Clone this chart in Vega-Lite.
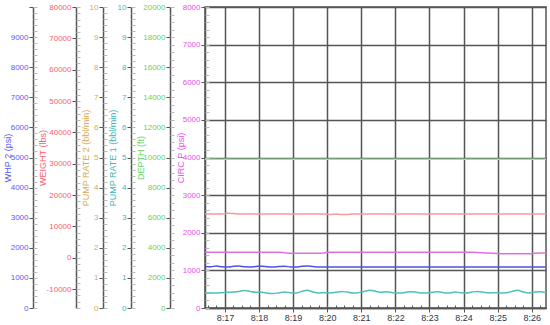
{
  "$schema": "https://vega.github.io/schema/vega-lite/v6.json",
  "width": 341,
  "height": 301,
  "autosize": {"type": "none"},
  "padding": {"left": 205, "top": 7, "right": 4, "bottom": 17},
  "background": "white",
  "config": {
    "view": {"stroke": "#555555", "strokeWidth": 1.5},
    "axis": {
      "labelFont": "Liberation Sans",
      "titleFont": "Liberation Sans",
      "labelFontSize": 8,
      "titleFontSize": 9,
      "titleFontWeight": "normal",
      "domainColor": "#555555",
      "domainWidth": 1.5,
      "tickColor": "#555555",
      "tickSize": 4,
      "labelPadding": 1,
      "labelOverlap": false,
      "labelFlush": false,
      "labelBound": false,
      "grid": false
    }
  },
  "data": {
    "values": [
      {"t": "2024-01-01T08:16:25", "whp2": 1380, "weight": 14000, "rate1": 0.50, "rate2": 0, "depth": 9880, "circp": 1480},
      {"t": "2024-01-01T08:16:35", "whp2": 1370, "weight": 14000, "rate1": 0.50, "rate2": 0, "depth": 9880, "circp": 1480},
      {"t": "2024-01-01T08:16:45", "whp2": 1395, "weight": 14000, "rate1": 0.50, "rate2": 0, "depth": 9880, "circp": 1480},
      {"t": "2024-01-01T08:16:55", "whp2": 1370, "weight": 14000, "rate1": 0.51, "rate2": 0, "depth": 9880, "circp": 1480},
      {"t": "2024-01-01T08:17:05", "whp2": 1360, "weight": 14200, "rate1": 0.52, "rate2": 0, "depth": 9880, "circp": 1480},
      {"t": "2024-01-01T08:17:15", "whp2": 1385, "weight": 14150, "rate1": 0.53, "rate2": 0, "depth": 9880, "circp": 1480},
      {"t": "2024-01-01T08:17:25", "whp2": 1395, "weight": 14000, "rate1": 0.55, "rate2": 0, "depth": 9880, "circp": 1480},
      {"t": "2024-01-01T08:17:35", "whp2": 1370, "weight": 14000, "rate1": 0.58, "rate2": 0, "depth": 9880, "circp": 1480},
      {"t": "2024-01-01T08:17:45", "whp2": 1365, "weight": 14000, "rate1": 0.55, "rate2": 0, "depth": 9880, "circp": 1480},
      {"t": "2024-01-01T08:17:55", "whp2": 1380, "weight": 14000, "rate1": 0.52, "rate2": 0, "depth": 9880, "circp": 1480},
      {"t": "2024-01-01T08:18:05", "whp2": 1390, "weight": 14000, "rate1": 0.52, "rate2": 0, "depth": 9880, "circp": 1480},
      {"t": "2024-01-01T08:18:15", "whp2": 1370, "weight": 14000, "rate1": 0.49, "rate2": 0, "depth": 9880, "circp": 1480},
      {"t": "2024-01-01T08:18:25", "whp2": 1360, "weight": 14000, "rate1": 0.48, "rate2": 0, "depth": 9880, "circp": 1480},
      {"t": "2024-01-01T08:18:35", "whp2": 1375, "weight": 14000, "rate1": 0.50, "rate2": 0, "depth": 9880, "circp": 1480},
      {"t": "2024-01-01T08:18:45", "whp2": 1385, "weight": 14000, "rate1": 0.53, "rate2": 0, "depth": 9880, "circp": 1470},
      {"t": "2024-01-01T08:18:55", "whp2": 1365, "weight": 14000, "rate1": 0.51, "rate2": 0, "depth": 9880, "circp": 1458},
      {"t": "2024-01-01T08:19:05", "whp2": 1360, "weight": 14000, "rate1": 0.50, "rate2": 0, "depth": 9880, "circp": 1458},
      {"t": "2024-01-01T08:19:15", "whp2": 1385, "weight": 14000, "rate1": 0.55, "rate2": 0, "depth": 9880, "circp": 1458},
      {"t": "2024-01-01T08:19:25", "whp2": 1395, "weight": 14000, "rate1": 0.59, "rate2": 0, "depth": 9880, "circp": 1458},
      {"t": "2024-01-01T08:19:35", "whp2": 1375, "weight": 14000, "rate1": 0.53, "rate2": 0, "depth": 9880, "circp": 1458},
      {"t": "2024-01-01T08:19:45", "whp2": 1360, "weight": 14000, "rate1": 0.50, "rate2": 0, "depth": 9880, "circp": 1458},
      {"t": "2024-01-01T08:19:55", "whp2": 1360, "weight": 14000, "rate1": 0.51, "rate2": 0, "depth": 9880, "circp": 1465},
      {"t": "2024-01-01T08:20:05", "whp2": 1360, "weight": 13800, "rate1": 0.50, "rate2": 0, "depth": 9880, "circp": 1480},
      {"t": "2024-01-01T08:20:15", "whp2": 1360, "weight": 13950, "rate1": 0.52, "rate2": 0, "depth": 9880, "circp": 1480},
      {"t": "2024-01-01T08:20:25", "whp2": 1360, "weight": 13800, "rate1": 0.55, "rate2": 0, "depth": 9880, "circp": 1480},
      {"t": "2024-01-01T08:20:35", "whp2": 1360, "weight": 13850, "rate1": 0.53, "rate2": 0, "depth": 9880, "circp": 1480},
      {"t": "2024-01-01T08:20:45", "whp2": 1360, "weight": 14000, "rate1": 0.50, "rate2": 0, "depth": 9880, "circp": 1480},
      {"t": "2024-01-01T08:20:55", "whp2": 1360, "weight": 14000, "rate1": 0.51, "rate2": 0, "depth": 9880, "circp": 1480},
      {"t": "2024-01-01T08:21:05", "whp2": 1360, "weight": 14000, "rate1": 0.55, "rate2": 0, "depth": 9880, "circp": 1480},
      {"t": "2024-01-01T08:21:15", "whp2": 1360, "weight": 14000, "rate1": 0.59, "rate2": 0, "depth": 9880, "circp": 1480},
      {"t": "2024-01-01T08:21:25", "whp2": 1360, "weight": 14000, "rate1": 0.56, "rate2": 0, "depth": 9880, "circp": 1480},
      {"t": "2024-01-01T08:21:35", "whp2": 1360, "weight": 14000, "rate1": 0.52, "rate2": 0, "depth": 9880, "circp": 1480},
      {"t": "2024-01-01T08:21:45", "whp2": 1360, "weight": 14000, "rate1": 0.54, "rate2": 0, "depth": 9880, "circp": 1480},
      {"t": "2024-01-01T08:21:55", "whp2": 1360, "weight": 14000, "rate1": 0.51, "rate2": 0, "depth": 9880, "circp": 1480},
      {"t": "2024-01-01T08:22:05", "whp2": 1360, "weight": 14000, "rate1": 0.50, "rate2": 0, "depth": 9880, "circp": 1480},
      {"t": "2024-01-01T08:22:15", "whp2": 1360, "weight": 14000, "rate1": 0.51, "rate2": 0, "depth": 9880, "circp": 1480},
      {"t": "2024-01-01T08:22:25", "whp2": 1360, "weight": 14000, "rate1": 0.54, "rate2": 0, "depth": 9880, "circp": 1480},
      {"t": "2024-01-01T08:22:35", "whp2": 1360, "weight": 14000, "rate1": 0.53, "rate2": 0, "depth": 9880, "circp": 1480},
      {"t": "2024-01-01T08:22:45", "whp2": 1360, "weight": 14000, "rate1": 0.50, "rate2": 0, "depth": 9880, "circp": 1480},
      {"t": "2024-01-01T08:22:55", "whp2": 1360, "weight": 14000, "rate1": 0.50, "rate2": 0, "depth": 9880, "circp": 1480},
      {"t": "2024-01-01T08:23:05", "whp2": 1360, "weight": 14000, "rate1": 0.52, "rate2": 0, "depth": 9880, "circp": 1480},
      {"t": "2024-01-01T08:23:15", "whp2": 1360, "weight": 14000, "rate1": 0.54, "rate2": 0, "depth": 9880, "circp": 1480},
      {"t": "2024-01-01T08:23:25", "whp2": 1360, "weight": 14000, "rate1": 0.51, "rate2": 0, "depth": 9880, "circp": 1480},
      {"t": "2024-01-01T08:23:35", "whp2": 1360, "weight": 14000, "rate1": 0.50, "rate2": 0, "depth": 9880, "circp": 1480},
      {"t": "2024-01-01T08:23:45", "whp2": 1360, "weight": 14000, "rate1": 0.53, "rate2": 0, "depth": 9880, "circp": 1480},
      {"t": "2024-01-01T08:23:55", "whp2": 1360, "weight": 14000, "rate1": 0.51, "rate2": 0, "depth": 9880, "circp": 1480},
      {"t": "2024-01-01T08:24:05", "whp2": 1360, "weight": 14000, "rate1": 0.50, "rate2": 0, "depth": 9880, "circp": 1480},
      {"t": "2024-01-01T08:24:15", "whp2": 1360, "weight": 14000, "rate1": 0.53, "rate2": 0, "depth": 9880, "circp": 1480},
      {"t": "2024-01-01T08:24:25", "whp2": 1360, "weight": 14000, "rate1": 0.55, "rate2": 0, "depth": 9880, "circp": 1475},
      {"t": "2024-01-01T08:24:35", "whp2": 1360, "weight": 14000, "rate1": 0.52, "rate2": 0, "depth": 9880, "circp": 1468},
      {"t": "2024-01-01T08:24:45", "whp2": 1360, "weight": 14000, "rate1": 0.50, "rate2": 0, "depth": 9880, "circp": 1460},
      {"t": "2024-01-01T08:24:55", "whp2": 1360, "weight": 14000, "rate1": 0.51, "rate2": 0, "depth": 9880, "circp": 1455},
      {"t": "2024-01-01T08:25:05", "whp2": 1360, "weight": 14000, "rate1": 0.50, "rate2": 0, "depth": 9880, "circp": 1445},
      {"t": "2024-01-01T08:25:15", "whp2": 1360, "weight": 14000, "rate1": 0.51, "rate2": 0, "depth": 9880, "circp": 1445},
      {"t": "2024-01-01T08:25:25", "whp2": 1360, "weight": 14000, "rate1": 0.55, "rate2": 0, "depth": 9880, "circp": 1445},
      {"t": "2024-01-01T08:25:35", "whp2": 1360, "weight": 14000, "rate1": 0.59, "rate2": 0, "depth": 9880, "circp": 1445},
      {"t": "2024-01-01T08:25:45", "whp2": 1360, "weight": 14000, "rate1": 0.53, "rate2": 0, "depth": 9880, "circp": 1445},
      {"t": "2024-01-01T08:25:55", "whp2": 1360, "weight": 14000, "rate1": 0.50, "rate2": 0, "depth": 9880, "circp": 1445},
      {"t": "2024-01-01T08:26:05", "whp2": 1360, "weight": 14000, "rate1": 0.53, "rate2": 0, "depth": 9880, "circp": 1455},
      {"t": "2024-01-01T08:26:15", "whp2": 1360, "weight": 14000, "rate1": 0.54, "rate2": 0, "depth": 9880, "circp": 1462},
      {"t": "2024-01-01T08:26:25", "whp2": 1360, "weight": 14000, "rate1": 0.51, "rate2": 0, "depth": 9880, "circp": 1462}
    ]
  },
  "encoding": {
    "x": {
      "field": "t",
      "type": "temporal",
      "scale": {
        "domain": [
          {"year": 2024, "month": 1, "date": 1, "hours": 8, "minutes": 16, "seconds": 25},
          {"year": 2024, "month": 1, "date": 1, "hours": 8, "minutes": 26, "seconds": 25}
        ],
        "nice": false
      },
      "axis": null
    }
  },
  "layer": [
    {
      "mark": {"type": "line", "color": "#9ae69a", "strokeWidth": 1.5},
      "encoding": {
        "y": {
          "field": "depth", "type": "quantitative",
          "scale": {"domain": [0, 20000], "nice": false, "zero": false},
          "axis": {
            "orient": "left", "offset": 35, "title": "DEPTH  (ft)", "titleX": -25,
            "titleColor": "#5fd35f", "labelColor": "#5fd35f", "tickCount": 10,
            "labelExpr": "'' + datum.value"
          }
        }
      }
    },
    {
      "mark": {"type": "line", "opacity": 0},
      "encoding": {
        "y": {
          "field": "depth", "type": "quantitative",
          "scale": {"domain": [0, 20000], "nice": false, "zero": false},
          "axis": {"orient": "left", "offset": 35, "title": null, "domain": false, "labels": false, "tickCount": 50, "tickSize": -4, "tickColor": "#bbbbbb"}
        }
      }
    },
    {
      "mark": {"type": "line", "color": "#f59a9a", "strokeWidth": 1.5, "interpolate": "monotone"},
      "encoding": {
        "y": {
          "field": "weight", "type": "quantitative",
          "scale": {"domain": [-16000, 80000], "nice": false, "zero": false},
          "axis": {
            "orient": "left", "offset": 129, "title": "WEIGHT  (lbs)", "titleX": -29,
            "titleColor": "#ff5a6e", "labelColor": "#ff5a6e", "tickCount": 10,
            "labelExpr": "'' + datum.value"
          }
        }
      }
    },
    {
      "mark": {"type": "line", "opacity": 0},
      "encoding": {
        "y": {
          "field": "weight", "type": "quantitative",
          "scale": {"domain": [-16000, 80000], "nice": false, "zero": false},
          "axis": {"orient": "left", "offset": 129, "title": null, "domain": false, "labels": false, "tickCount": 48, "tickSize": -4, "tickColor": "#bbbbbb"}
        }
      }
    },
    {
      "mark": {"type": "line", "color": "#e070e0", "strokeWidth": 1.5, "interpolate": "monotone"},
      "encoding": {
        "x": {
          "field": "t",
          "type": "temporal",
          "scale": {
            "domain": [
              {"year": 2024, "month": 1, "date": 1, "hours": 8, "minutes": 16, "seconds": 25},
              {"year": 2024, "month": 1, "date": 1, "hours": 8, "minutes": 26, "seconds": 25}
            ],
            "nice": false
          },
          "axis": {
            "orient": "bottom",
            "title": null,
            "tickCount": 10,
            "format": "%-H:%M",
            "grid": true,
            "gridColor": "#555555",
            "gridWidth": 1.5,
            "tickSize": 4,
            "labelColor": "#33334d",
            "labelFontSize": 9,
            "labelPadding": 1
          }
        },
        "y": {
          "field": "circp", "type": "quantitative",
          "scale": {"domain": [0, 8000], "nice": false, "zero": false},
          "axis": {
            "orient": "left", "offset": 0, "title": "CIRC P  (psi)", "titleX": -20,
            "titleColor": "#e64ee6", "labelColor": "#e64ee6", "tickCount": 8,
            "grid": true, "gridColor": "#555555", "gridWidth": 1.5,
            "labelExpr": "'' + datum.value"
          }
        }
      }
    },
    {
      "mark": {"type": "line", "opacity": 0},
      "encoding": {
        "x": {
          "field": "t",
          "type": "temporal",
          "scale": {
            "domain": [
              {"year": 2024, "month": 1, "date": 1, "hours": 8, "minutes": 16, "seconds": 25},
              {"year": 2024, "month": 1, "date": 1, "hours": 8, "minutes": 26, "seconds": 25}
            ],
            "nice": false
          },
          "axis": {
            "orient": "bottom",
            "title": null,
            "tickCount": 40,
            "labels": false,
            "domain": false,
            "grid": false,
            "tickSize": -3,
            "tickColor": "#555555"
          }
        },
        "y": {
          "field": "circp", "type": "quantitative",
          "scale": {"domain": [0, 8000], "nice": false, "zero": false},
          "axis": {"orient": "left", "offset": 0, "title": null, "domain": false, "labels": false, "tickCount": 40, "tickSize": -4, "tickColor": "#bbbbbb"}
        }
      }
    },
    {
      "mark": {"type": "line", "color": "#5050e8", "strokeWidth": 1.5, "interpolate": "monotone"},
      "encoding": {
        "y": {
          "field": "whp2", "type": "quantitative",
          "scale": {"domain": [0, 10000], "nice": false, "zero": false},
          "axis": {
            "orient": "left", "offset": 172, "title": "WHP 2  (psi)", "titleX": -21,
            "titleColor": "#5a5af0", "labelColor": "#5a5af0", "tickCount": 10,
            "labelExpr": "datum.value < 10000 ? '' + datum.value : ''"
          }
        }
      }
    },
    {
      "mark": {"type": "line", "opacity": 0},
      "encoding": {
        "y": {
          "field": "whp2", "type": "quantitative",
          "scale": {"domain": [0, 10000], "nice": false, "zero": false},
          "axis": {"orient": "left", "offset": 172, "title": null, "domain": false, "labels": false, "tickCount": 50, "tickSize": -4, "tickColor": "#bbbbbb"}
        }
      }
    },
    {
      "mark": {"type": "line", "opacity": 0},
      "encoding": {
        "y": {
          "field": "rate2", "type": "quantitative",
          "scale": {"domain": [0, 10], "nice": false, "zero": false},
          "axis": {
            "orient": "left", "offset": 102, "title": "PUMP RATE 2  (bbl/min)", "titleX": -13,
            "titleColor": "#d8aa50", "labelColor": "#d8aa50", "tickCount": 10,
            "labelExpr": "'' + datum.value"
          }
        }
      }
    },
    {
      "mark": {"type": "line", "opacity": 0},
      "encoding": {
        "y": {
          "field": "rate2", "type": "quantitative",
          "scale": {"domain": [0, 10], "nice": false, "zero": false},
          "axis": {"orient": "left", "offset": 102, "title": null, "domain": false, "labels": false, "tickCount": 50, "tickSize": -4, "tickColor": "#bbbbbb"}
        }
      }
    },
    {
      "mark": {"type": "line", "color": "#50c0b8", "strokeWidth": 1.5, "interpolate": "monotone"},
      "encoding": {
        "y": {
          "field": "rate1", "type": "quantitative",
          "scale": {"domain": [0, 10], "nice": false, "zero": false},
          "axis": {
            "orient": "left", "offset": 74, "title": "PUMP RATE 1  (bbl/min)", "titleX": -14,
            "titleColor": "#3fb5b5", "labelColor": "#3fb5b5", "tickCount": 10,
            "labelExpr": "'' + datum.value"
          }
        }
      }
    },
    {
      "mark": {"type": "line", "opacity": 0},
      "encoding": {
        "y": {
          "field": "rate1", "type": "quantitative",
          "scale": {"domain": [0, 10], "nice": false, "zero": false},
          "axis": {"orient": "left", "offset": 74, "title": null, "domain": false, "labels": false, "tickCount": 50, "tickSize": -4, "tickColor": "#bbbbbb"}
        }
      }
    }
  ],
  "resolve": {
    "scale": {"y": "independent", "x": "independent"},
    "axis": {"y": "independent", "x": "independent"}
  }
}
